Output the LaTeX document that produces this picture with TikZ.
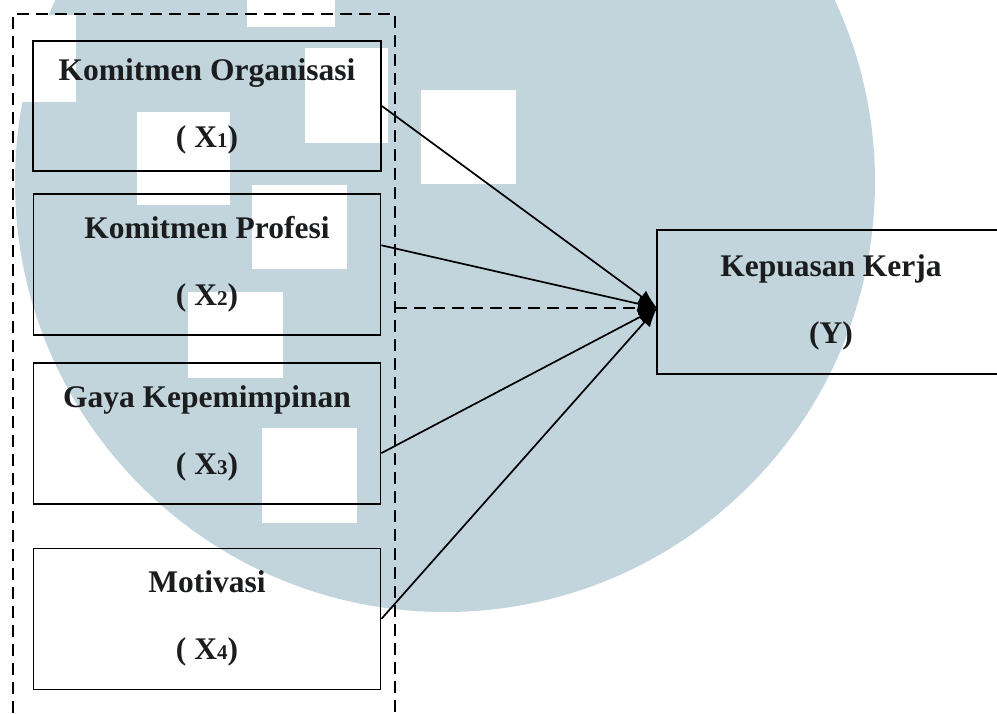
\documentclass[tikz,border=0pt]{standalone}
\usepackage{fontspec}
\setmainfont{Liberation Serif}
\usepackage{tikz}
\usetikzlibrary{arrows.meta,positioning}
\definecolor{wmblue}{RGB}{194,212,220}
\definecolor{ink}{RGB}{26,28,30}
\newcommand{\idx}[1]{{\fontsize{21}{21}\selectfont #1}}
\newcommand{\newVar}[3]{\node[var,#3](#1){#2};}
\newcommand{\newLink}[3]{\path[link] (#1) edge [#3] (#2); }

\begin{document}
\begin{tikzpicture}[
    % one unit is one pixel of the picture
    x=1pt,y=-1pt,
    % Default arrow tip
    >={Latex[length=19pt,width=15pt]},
    % Boxes of the variables
    var/.style={draw,line width=1.8pt,minimum width=347pt,minimum height=141pt,
      inner sep=0pt,align=center,text=ink,
      font=\bfseries\fontsize{31.5}{37}\selectfont},
    % Edge stroke thickness
    link/.style={->,line width=1.7pt},
    group/.style={line width=2.7pt,dash pattern=on 12pt off 7pt}
    ]
    \useasboundingbox (0,0) rectangle (997,713);

    % background
    \fill[wmblue] (445,182) circle[radius=430pt];
    \foreach \a/\b/\c/\d in {0/15/76/102, 137/112/230/205, 305/48/388/143,
        421/90/516/184, 252/185/347/269, 188/292/283/378, 262/428/357/523,
        247/0/335/27}
      \fill[white] (\a,\b) rectangle (\c,\d);

    \newVar{x1}{Komitmen Organisasi\\[30pt]( X\idx{1})}{minimum width=348pt,minimum height=130pt,at={(207,106)}}
    \newVar{x2}{Komitmen Profesi\\[30pt]( X\idx{2})}{below=21pt of x1}
    \newVar{x3}{Gaya Kepemimpinan\\[30pt]( X\idx{3})}{below=26pt of x2}
    \newVar{x4}{Motivasi\\[30pt]( X\idx{4})}{below=43pt of x3}
    \newVar{y}{Kepuasan Kerja\\[30pt](Y)}{minimum width=348pt,minimum height=144pt,at={(831,302)}}

    % dashed group round X1 to X4
    \coordinate (gbl) at (13,713);
    \coordinate (gtl) at (13,14);
    \coordinate (gtr) at (395,14);
    \coordinate (gbr) at (395,713);
    \draw[group] (gbl) -- (gtl) -- (gtr) -- (gbr);

    \coordinate (tip) at (657,308);
    \newLink{x1.east}{tip}{}
    \newLink{[yshift=19pt]x2.east}{tip}{}
    \newLink{[yshift=-20pt]x3.east}{tip}{}
    \newLink{x4.east}{tip}{}
    \newLink{gtr |- tip}{tip}{group}
  \end{tikzpicture}
\end{document}
